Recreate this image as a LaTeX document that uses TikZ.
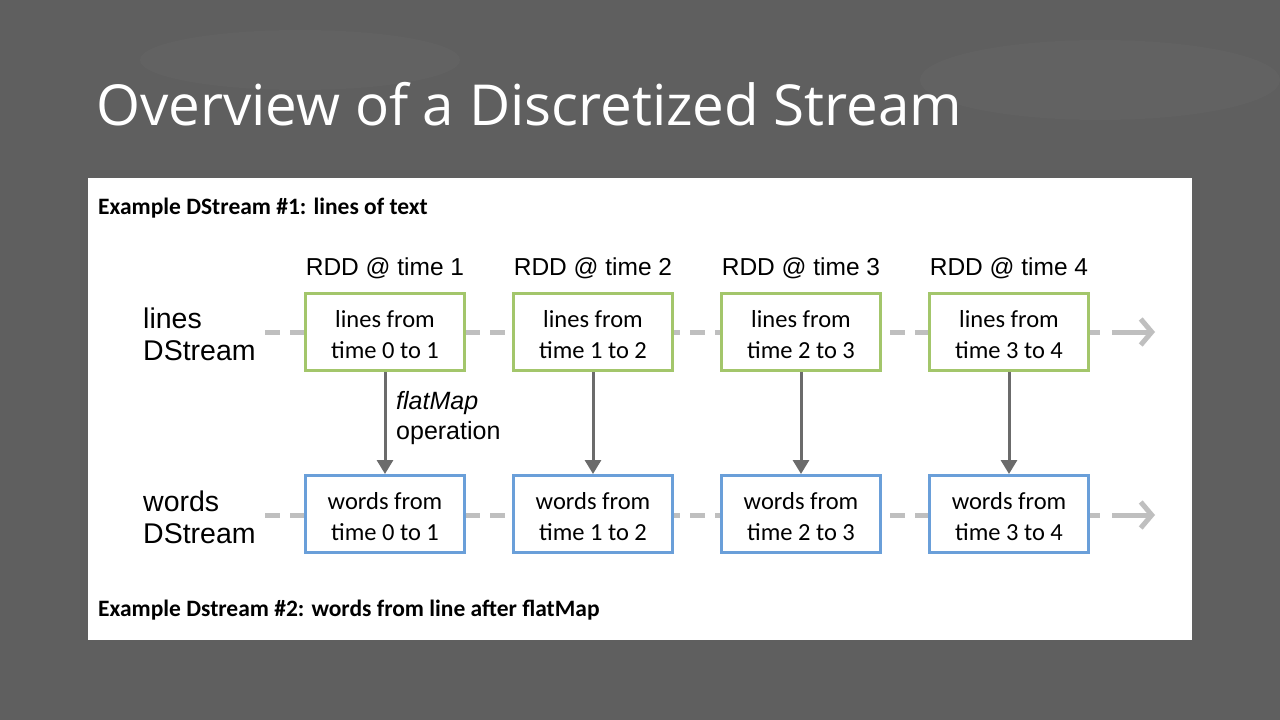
\documentclass[tikz,border=0pt]{standalone}
\usepackage{fontspec}
\setmainfont{Carlito}
\newfontfamily\arialf{Liberation Sans}
\newfontfamily\titlef{Open Sans}
\usetikzlibrary{arrows.meta}
\definecolor{board}{HTML}{5F5F5F}
\definecolor{rddgreen}{HTML}{A3C66B}
\definecolor{rddblue}{HTML}{6A9FD9}
\definecolor{streamgray}{HTML}{BFBFBF}
\definecolor{opgray}{HTML}{6B6B6B}
\tikzset{
  linesbox/.style={draw=rddgreen, line width=3pt, fill=white, minimum width=159pt, minimum height=77pt, inner sep=0pt},
  wordsbox/.style={draw=rddblue, line width=3pt, fill=white, minimum width=159pt, minimum height=77pt, inner sep=0pt},
  boxtext/.style={inner sep=0pt, align=center, font=\fontsize{24.5}{31}\selectfont},
  streamline/.style={draw=streamgray, line width=5pt, dash pattern=on 15pt off 10pt},
  streamhead/.style={draw=streamgray, line width=5pt, -{Straight Barb[length=11pt,width=26pt]}},
  oparrow/.style={draw=opgray, line width=3pt, -{Triangle[length=14pt,width=16pt]}},
  rddlabel/.style={font=\arialf\fontsize{24.5}{28}\selectfont, inner sep=0pt},
  streamlabel/.style={font=\arialf\fontsize{28.5}{32}\selectfont, align=left, anchor=west, inner sep=0pt},
  example/.style={font=\bfseries\fontsize{23.5}{26}\selectfont, anchor=west, inner sep=0pt}
}
\begin{document}
\begin{tikzpicture}[x=1pt,y=-1pt]
  % chalkboard backdrop
  \fill[board] (0,0) rectangle (1280,720);
  \useasboundingbox (0,0) rectangle (1280,720);
  \fill[white, opacity=0.02] (300,60) ellipse (160 and 30);
  \fill[white, opacity=0.02] (1100,80) ellipse (180 and 40);

  % title
  \node[anchor=base west, text=white, inner sep=0pt, font=\titlef\fontsize{56.5}{60}\selectfont] (title) at (96,125) {Overview of a Discretized Stream};

  % white panel
  \fill[white] (88,178) rectangle (1192,640);

  \node[example] (ex1) at (98,208) {Example DStream \#1: lines of text};
  \node[example] (ex2) at (98,610) {Example Dstream \#2: words from line after flatMap};

  % stream axes with time-indexed RDDs
  \coordinate (l0) at (265,332);
  \coordinate (lend) at (1155,332);
  \coordinate (w0) at (265,515);
  \coordinate (wend) at (1155,515);
  \draw[streamline] (l0) -- (1100,332);
  \draw[streamline] (w0) -- (1100,515);
  \draw[streamhead] (1112,332) -- (lend);
  \draw[streamhead] (1112,515) -- (wend);

  \node[streamlabel] (lineslbl) at (143,334) {lines\\DStream};
  \node[streamlabel] (wordslbl) at (143,517) {words\\DStream};

  \foreach \i/\x in {1/385,2/593,3/801,4/1009}{
    \pgfmathtruncatemacro{\prev}{\i-1}
    \node[rddlabel] (rdd\i) at (\x,268) {RDD @ time \i};
    \node[linesbox] (lines\i) at (\x,332) {};
    \node[boxtext] (linestxt\i) at (\x,335) {lines from\\time \prev\ to \i};
    \node[wordsbox] (words\i) at (\x,514) {};
    \node[boxtext] (wordstxt\i) at (\x,517) {words from\\time \prev\ to \i};
    \draw[oparrow] (lines\i.south) -- (words\i.north);
  }

  \node[anchor=west, align=left, inner sep=0pt, font=\arialf\fontsize{25}{30}\selectfont] (oplbl) at (396,418) {\itshape flatMap\\operation};
\end{tikzpicture}
\end{document}
